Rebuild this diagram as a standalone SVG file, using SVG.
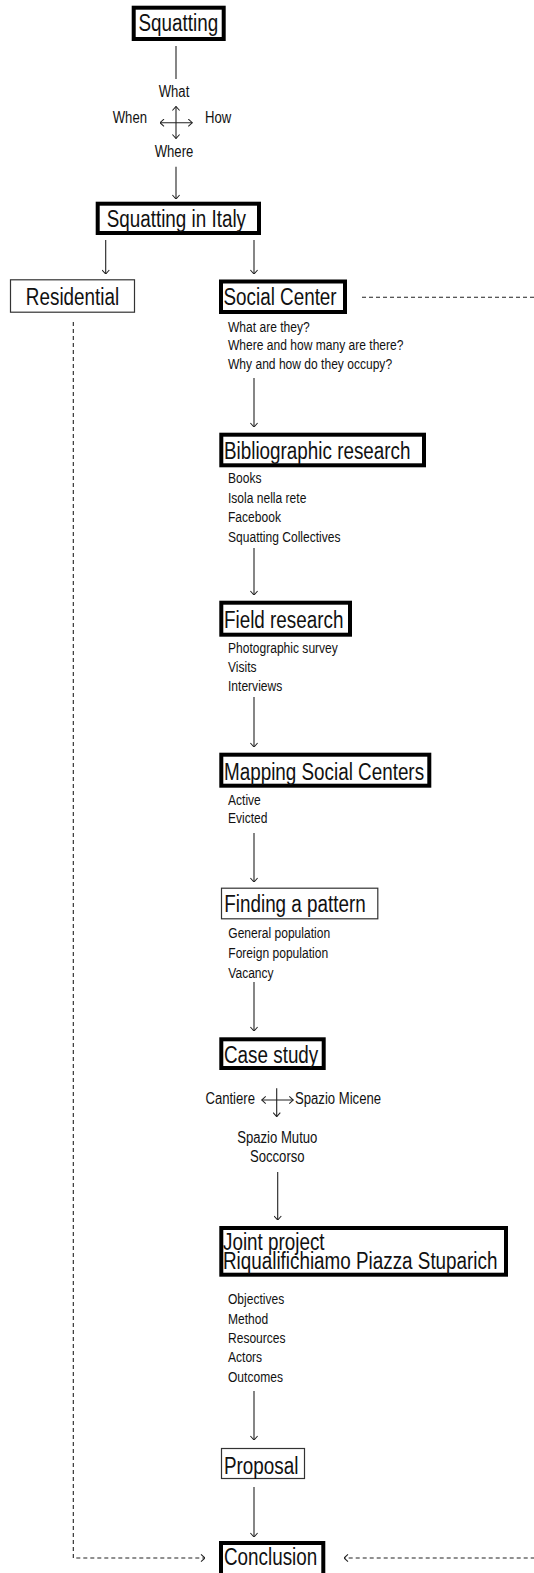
<svg xmlns="http://www.w3.org/2000/svg" width="534" height="1573" viewBox="0 0 534 1573">
<defs>
<style>
.t{font-family:"Liberation Sans",Arial,sans-serif;fill:#111;}
.m{font-size:23px;}
.s{font-size:14.7px;}
.c{font-size:16px;}
.thick{fill:#fff;stroke:#000;stroke-width:4;}
.thin{fill:#fff;stroke:#333;stroke-width:1.2;}
.ln{fill:none;stroke:#222;stroke-width:1.1;}
.ds{fill:none;stroke:#222;stroke-width:1.1;stroke-dasharray:4,3;}
</style>
<marker id="ah" viewBox="0 0 10 10" refX="9.5" refY="5" markerWidth="8" markerHeight="8" markerUnits="userSpaceOnUse" orient="auto-start-reverse">
<path d="M4.5,0.5 L9.5,5 L4.5,9.5" fill="none" stroke="#222" stroke-width="1.3"/>
</marker>
</defs>
<rect width="534" height="1573" fill="#fff"/>
<g id="connectors">
<line class="ln" x1="176" y1="46" x2="176" y2="79"/>
<line class="ln" x1="160" y1="122.7" x2="192.3" y2="122.7" marker-start="url(#ah)" marker-end="url(#ah)"/>
<line class="ln" x1="176" y1="106.5" x2="176" y2="138.5" marker-start="url(#ah)" marker-end="url(#ah)"/>
<line class="ln" x1="176" y1="166.7" x2="176" y2="199" marker-end="url(#ah)"/>
<line class="ln" x1="105.7" y1="240" x2="105.7" y2="274" marker-end="url(#ah)"/>
<line class="ln" x1="254" y1="240" x2="254" y2="274" marker-end="url(#ah)"/>
<line class="ln" x1="254" y1="378" x2="254" y2="427" marker-end="url(#ah)"/>
<line class="ln" x1="254" y1="548" x2="254" y2="595" marker-end="url(#ah)"/>
<line class="ln" x1="254" y1="697" x2="254" y2="747" marker-end="url(#ah)"/>
<line class="ln" x1="254" y1="833" x2="254" y2="882" marker-end="url(#ah)"/>
<line class="ln" x1="254" y1="982" x2="254" y2="1031" marker-end="url(#ah)"/>
<line class="ln" x1="261.7" y1="1100" x2="293.3" y2="1100" marker-start="url(#ah)" marker-end="url(#ah)"/>
<line class="ln" x1="276.7" y1="1088.3" x2="276.7" y2="1116.7" marker-end="url(#ah)"/>
<line class="ln" x1="277.7" y1="1172" x2="277.7" y2="1220" marker-end="url(#ah)"/>
<line class="ln" x1="254" y1="1391" x2="254" y2="1440" marker-end="url(#ah)"/>
<line class="ln" x1="254" y1="1487" x2="254" y2="1537" marker-end="url(#ah)"/>
<path class="ds" d="M73.3,322 V1558 H205" marker-end="url(#ah)"/>
<path class="ds" d="M362,297.3 H560 V1558 H344" marker-end="url(#ah)"/>
</g>
<g id="n-squatting">
<rect class="thick" x="133.7" y="7.7" width="90" height="31.3"/>
<text class="t m" x="138.5" y="31.5" transform="matrix(0.82 0 0 1 24.93 0)">Squatting</text>
</g>
<g id="n-cross-labels">
<text class="t c" x="174" y="97.3" text-anchor="middle" transform="matrix(0.82 0 0 1 31.32 0)">What</text>
<text class="t c" x="147" y="123.3" text-anchor="end" transform="matrix(0.82 0 0 1 26.46 0)">When</text>
<text class="t c" x="205" y="123.3" transform="matrix(0.82 0 0 1 36.9 0)">How</text>
<text class="t c" x="174" y="156.7" text-anchor="middle" transform="matrix(0.82 0 0 1 31.32 0)">Where</text>
</g>
<g id="n-italy">
<rect class="thick" x="97.7" y="203.7" width="161.3" height="29.3"/>
<text class="t m" x="106.7" y="227.5" transform="matrix(0.82 0 0 1 19.206 0)">Squatting in Italy</text>
</g>
<g id="n-residential">
<rect class="thin" x="10.5" y="279.8" width="124" height="32.4"/>
<text class="t m" x="72.5" y="305" text-anchor="middle" transform="matrix(0.82 0 0 1 13.05 0)">Residential</text>
</g>
<g id="n-social">
<rect class="thick" x="221" y="281.5" width="124" height="30.5"/>
<text class="t m" x="223.5" y="305" transform="matrix(0.82 0 0 1 40.23 0)">Social Center</text>
<text class="t s" x="228" y="331.7" transform="matrix(0.82 0 0 1 41.04 0)">What are they?</text>
<text class="t s" x="228" y="350.5" transform="matrix(0.82 0 0 1 41.04 0)">Where and how many are there?</text>
<text class="t s" x="228" y="369.3" transform="matrix(0.82 0 0 1 41.04 0)">Why and how do they occupy?</text>
</g>
<g id="n-biblio">
<rect class="thick" x="221.3" y="434.7" width="202.7" height="30.6"/>
<text class="t m" x="224" y="459.3" transform="matrix(0.82 0 0 1 40.32 0)">Bibliographic research</text>
<text class="t s" x="228" y="483.3" transform="matrix(0.82 0 0 1 41.04 0)">Books</text>
<text class="t s" x="228" y="502.7" transform="matrix(0.82 0 0 1 41.04 0)">Isola nella rete</text>
<text class="t s" x="228" y="522.2" transform="matrix(0.82 0 0 1 41.04 0)">Facebook</text>
<text class="t s" x="228" y="541.7" transform="matrix(0.82 0 0 1 41.04 0)">Squatting Collectives</text>
</g>
<g id="n-field">
<rect class="thick" x="221.3" y="602.7" width="128.7" height="32"/>
<text class="t m" x="224" y="628.3" transform="matrix(0.82 0 0 1 40.32 0)">Field research</text>
<text class="t s" x="228" y="653.3" transform="matrix(0.82 0 0 1 41.04 0)">Photographic survey</text>
<text class="t s" x="228" y="672.2" transform="matrix(0.82 0 0 1 41.04 0)">Visits</text>
<text class="t s" x="228" y="691" transform="matrix(0.82 0 0 1 41.04 0)">Interviews</text>
</g>
<g id="n-mapping">
<rect class="thick" x="221.3" y="754.7" width="208" height="31"/>
<text class="t m" x="224" y="780" transform="matrix(0.82 0 0 1 40.32 0)">Mapping Social Centers</text>
<text class="t s" x="228" y="805" transform="matrix(0.82 0 0 1 41.04 0)">Active</text>
<text class="t s" x="228" y="823.5" transform="matrix(0.82 0 0 1 41.04 0)">Evicted</text>
</g>
<g id="n-pattern">
<rect class="thin" x="221.5" y="888.2" width="156.3" height="30.6"/>
<text class="t m" x="224.3" y="911.7" transform="matrix(0.82 0 0 1 40.374 0)">Finding a pattern</text>
<text class="t s" x="228.3" y="938.3" transform="matrix(0.82 0 0 1 41.094 0)">General population</text>
<text class="t s" x="228.3" y="958" transform="matrix(0.82 0 0 1 41.094 0)">Foreign population</text>
<text class="t s" x="228.3" y="977.7" transform="matrix(0.82 0 0 1 41.094 0)">Vacancy</text>
</g>
<g id="n-case">
<rect class="thick" x="221.3" y="1039.3" width="102.4" height="28.7"/>
<text class="t m" x="224" y="1063.3" transform="matrix(0.82 0 0 1 40.32 0)">Case study</text>
</g>
<g id="n-case-labels">
<text class="t c" x="255" y="1104" text-anchor="end" transform="matrix(0.82 0 0 1 45.9 0)">Cantiere</text>
<text class="t c" x="295" y="1104" transform="matrix(0.82 0 0 1 53.1 0)">Spazio Micene</text>
<text class="t c" x="277.3" y="1142.7" text-anchor="middle" transform="matrix(0.82 0 0 1 49.914 0)">Spazio Mutuo</text>
<text class="t c" x="277.3" y="1161.7" text-anchor="middle" transform="matrix(0.82 0 0 1 49.914 0)">Soccorso</text>
</g>
<g id="n-joint">
<rect class="thick" x="221.3" y="1228" width="284.7" height="46.7"/>
<text class="t m" x="223" y="1250" transform="matrix(0.82 0 0 1 40.14 0)">Joint project</text>
<text class="t m" x="223" y="1269.3" transform="matrix(0.82 0 0 1 40.14 0)">Riqualifichiamo Piazza Stuparich</text>
<text class="t s" x="228" y="1304.5" transform="matrix(0.82 0 0 1 41.04 0)">Objectives</text>
<text class="t s" x="228" y="1323.8" transform="matrix(0.82 0 0 1 41.04 0)">Method</text>
<text class="t s" x="228" y="1343.1" transform="matrix(0.82 0 0 1 41.04 0)">Resources</text>
<text class="t s" x="228" y="1362.4" transform="matrix(0.82 0 0 1 41.04 0)">Actors</text>
<text class="t s" x="228" y="1381.7" transform="matrix(0.82 0 0 1 41.04 0)">Outcomes</text>
</g>
<g id="n-proposal">
<rect class="thin" x="221.5" y="1448.5" width="83" height="30"/>
<text class="t m" x="224" y="1474" transform="matrix(0.82 0 0 1 40.32 0)">Proposal</text>
</g>
<g id="n-conclusion">
<rect class="thick" x="221" y="1543" width="102.3" height="40"/>
<text class="t m" x="224" y="1565.5" transform="matrix(0.82 0 0 1 40.32 0)">Conclusion</text>
</g>
</svg>
